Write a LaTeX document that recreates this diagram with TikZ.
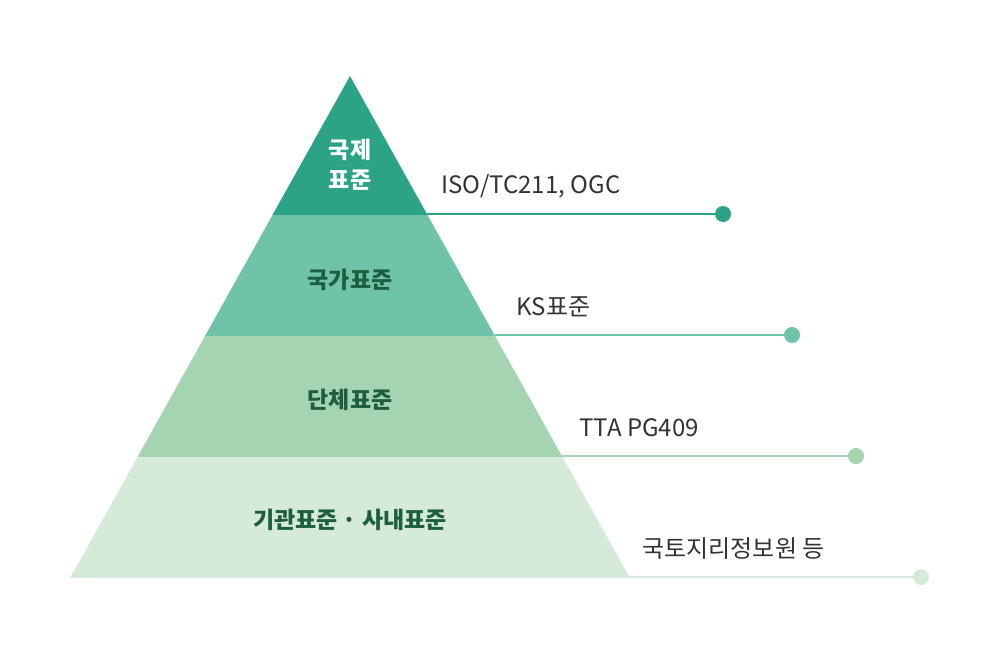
\documentclass[tikz,border=0pt]{standalone}
\usepackage{fontspec}
\setmainfont{Noto Sans CJK KR}
\begin{document}
\begin{tikzpicture}[x=1pt,y=-1pt,
  lbl/.style={anchor=west,font=\fontsize{24}{28}\selectfont,text=black!80},
  plbl/.style={font=\fontsize{23}{30}\selectfont\bfseries,text=dgreen,align=center},
  dot/.style={circle,inner sep=0pt,minimum size=16pt}]
\definecolor{c1}{HTML}{2BA384}\definecolor{c2}{HTML}{6FC3A9}
\definecolor{c3}{HTML}{A5D4B2}\definecolor{c4}{HTML}{D5EAD9}
\definecolor{dgreen}{HTML}{1E5E40}
\useasboundingbox (0,0) rectangle (1000,662);
\fill[c1] (350,76) -- (427.5,215) -- (272.5,215) -- cycle;
\fill[c2] (272.5,215) -- (427.5,215) -- (495,336) -- (205,336) -- cycle;
\fill[c3] (205,336) -- (495,336) -- (562.5,457) -- (137.5,457) -- cycle;
\fill[c4] (137.5,457) -- (562.5,457) -- (630,578) -- (70,578) -- cycle;
\node[plbl,text=white] (t1) at (350,165) {국제\\표준};
\node[plbl] (t2) at (350,280) {국가표준};
\node[plbl] (t3) at (350,400) {단체표준};
\node[plbl] (t4) at (350,520) {기관표준 · 사내표준};
\coordinate (s1) at (427,214); \node[dot,fill=c1] (d1) at (723,214) {};
\coordinate (s2) at (495,335); \node[dot,fill=c2] (d2) at (792,335) {};
\coordinate (s3) at (562,456); \node[dot,fill=c3] (d3) at (856,456) {};
\coordinate (s4) at (630,577); \node[dot,fill=c4] (d4) at (921,577) {};
\draw[c1,line width=1.5pt] (s1) -- (d1);
\draw[c2,line width=1.5pt] (s2) -- (d2);
\draw[c3,line width=1.5pt] (s3) -- (d3);
\draw[c4,line width=1.5pt] (s4) -- (d4);
\node[lbl] (l1) at (438,186) {ISO/TC211, OGC};
\node[lbl] (l2) at (513,307) {KS표준};
\node[lbl] (l3) at (576,428) {TTA PG409};
\node[lbl] (l4) at (639,549) {국토지리정보원 등};
\end{tikzpicture}
\end{document}
